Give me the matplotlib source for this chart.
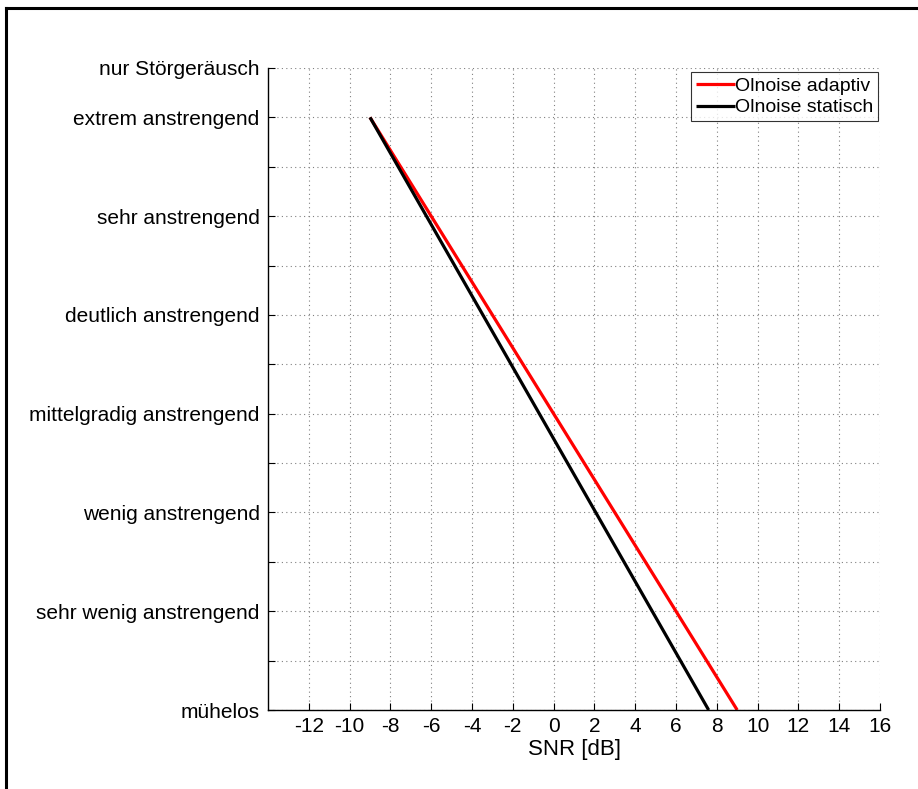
import matplotlib
matplotlib.use("Agg")
import matplotlib.pyplot as plt
from matplotlib.lines import Line2D

plt.rcParams['font.family'] = ['Liberation Sans', 'DejaVu Sans']

# Rating scale (categorical listening-effort scale)
scale_pos = [1, 3, 5, 7, 9, 11, 13, 14]
scale_labels = ['mühelos', 'sehr wenig anstrengend', 'wenig anstrengend',
                'mittelgradig anstrengend', 'deutlich anstrengend',
                'sehr anstrengend', 'extrem anstrengend', 'nur Störgeräusch']

# Fitted effort functions (SNR in dB vs. rating)
adaptiv_snr = [-9.0, 9.0]
adaptiv_rating = [13, 1]
statisch_snr = [-9.0, 7.6]
statisch_rating = [13, 1]

x_ticks = list(range(-12, 17, 2))

fig = plt.figure(figsize=(9.18, 7.89), dpi=100)
ax = fig.add_axes([268/918, 1-710/789, (880-268)/918, (710-68)/789])

ax.plot(adaptiv_snr, adaptiv_rating, color='#ff0000', lw=2.3,
        label='Olnoise adaptiv', solid_capstyle='butt')
ax.plot(statisch_snr, statisch_rating, color='black', lw=2.3,
        label='Olnoise statisch', solid_capstyle='butt')

ax.set_xlim(-14, 16)
ax.set_ylim(1, 14)
ax.set_xticks(x_ticks)
ax.set_xticklabels([str(v) for v in x_ticks])

all_y = list(range(1, 15))
ylab = {p: l for p, l in zip(scale_pos, scale_labels)}
ax.set_yticks(all_y)
ax.set_yticklabels([ylab.get(v, '') for v in all_y])

ax.tick_params(axis='both', direction='in', length=5, width=0.8,
               labelsize=15, colors='black')
ax.tick_params(axis='x', pad=5)
ax.tick_params(axis='y', pad=6)

ax.grid(True, linestyle=(0, (1, 3)), color='#808080', linewidth=0.8)
ax.set_axisbelow(True)

for s in ('top', 'right'):
    ax.spines[s].set_visible(False)
for s in ('left', 'bottom'):
    ax.spines[s].set_linewidth(1.0)
    ax.spines[s].set_color('black')

ax.set_xlabel('SNR [dB]', fontsize=16, labelpad=2)

leg = ax.legend(loc='upper right', bbox_to_anchor=(0.997, 0.993),
                fontsize=14, frameon=True, fancybox=False,
                handlelength=2.0, handletextpad=0.0, borderpad=0.25,
                labelspacing=0.2, borderaxespad=0.0)
leg.get_frame().set_edgecolor('black')
leg.get_frame().set_linewidth(0.8)
for h in leg.get_lines():
    h.set_linewidth(2.3)

# Figure frame along top and left edges
fig.add_artist(Line2D([5.5/918, 1.0], [1-7.5/789, 1-7.5/789],
                      transform=fig.transFigure, color='black', lw=2.2))
fig.add_artist(Line2D([5.5/918, 5.5/918], [0.0, 1-7.5/789],
                      transform=fig.transFigure, color='black', lw=2.2))

fig.savefig('out.png', dpi=100)
